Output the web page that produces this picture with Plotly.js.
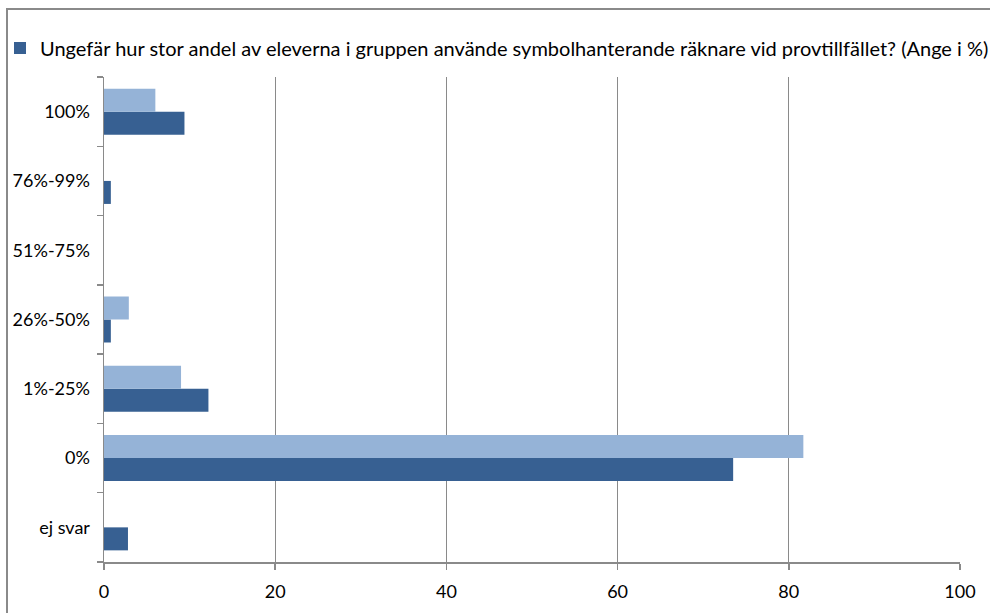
<!DOCTYPE html>
<html>
<head>
<meta charset="utf-8">
<script src="https://cdn.plot.ly/plotly-3.0.1.min.js"></script>
<style>
  html, body { margin: 0; padding: 0; background: #fff; }
  #wrap { position: relative; width: 990px; height: 613px; }
  #chart { position: absolute; left: 0; top: 0; width: 990px; height: 613px; }
  #frameTop { position: absolute; left: 6px; top: 8px; width: 984px; height: 0; border-top: 2px solid #8a8a8a; }
  #frameLeft { position: absolute; left: 6px; top: 8px; width: 0; height: 605px; border-left: 2px solid #8a8a8a; }
</style>
</head>
<body>
<div id="wrap">
  <div id="chart"></div>
  <div id="frameTop"></div>
  <div id="frameLeft"></div>
</div>
<script>
const categories = ["ej svar", "0%", "1%-25%", "26%-50%", "51%-75%", "76%-99%", "100%"];
const seriesDarkName = "Ungefär hur stor andel av eleverna i gruppen använde symbolhanterande räknare vid provtillfället? (Ange i %)";
const seriesDark = [2.8, 73.5, 12.2, 0.8, 0, 0.8, 9.4];
const seriesLight = [0, 81.7, 9.0, 2.9, 0, 0, 6.0];
const xTicks = [0, 20, 40, 60, 80, 100];

const font = "Lato, 'Open Sans', sans-serif";

const traces = [
  {
    type: "bar", orientation: "h",
    name: seriesDarkName,
    y: categories, x: seriesDark,
    marker: { color: "#376092", line: { width: 0 } },
    showlegend: true,
    hoverinfo: "x+y"
  },
  {
    type: "bar", orientation: "h",
    name: "",
    y: categories, x: seriesLight,
    marker: { color: "#95b3d7", line: { width: 0 } },
    showlegend: false,
    hoverinfo: "x+y"
  }
];

const layout = {
  width: 990, height: 613,
  margin: { l: 104, r: 30, t: 77, b: 51, pad: 0 },
  paper_bgcolor: "#ffffff",
  plot_bgcolor: "#ffffff",
  font: { family: font, size: 18, color: "#000000" },
  barmode: "group",
  bargap: 0.336,
  bargroupgap: 0,
  showlegend: true,
  legend: {
    orientation: "h",
    xref: "container", yref: "container",
    x: 0, xanchor: "left",
    y: 0.9217, yanchor: "middle",
    font: { family: font, size: 20, color: "#000" },
    bgcolor: "rgba(0,0,0,0)",
    itemwidth: 30,
    itemsizing: "constant"
  },
  xaxis: {
    range: [0, 100],
    tickvals: xTicks,
    ticktext: xTicks.map(String),
    showgrid: true, gridcolor: "#8a8a8a", gridwidth: 1.2,
    zeroline: false,
    showline: true, linecolor: "#8a8a8a", linewidth: 1.5,
    ticks: "outside", ticklen: 6, tickcolor: "#8a8a8a", tickwidth: 1.5,
    ticklabelstandoff: 7,
    tickfont: { family: font, size: 18, color: "#000" },
    fixedrange: true
  },
  yaxis: {
    type: "category",
    categoryorder: "array",
    categoryarray: categories,
    tickson: "boundaries",
    showgrid: false,
    zeroline: false,
    showline: true, linecolor: "#8a8a8a", linewidth: 1.5,
    ticks: "outside", ticklen: 6, tickcolor: "#8a8a8a", tickwidth: 1.5,
    ticklabelstandoff: 9,
    tickfont: { family: font, size: 18, color: "#000" },
    fixedrange: true
  }
};

Plotly.newPlot("chart", traces, layout, { displayModeBar: false, staticPlot: true });
</script>
</body>
</html>
